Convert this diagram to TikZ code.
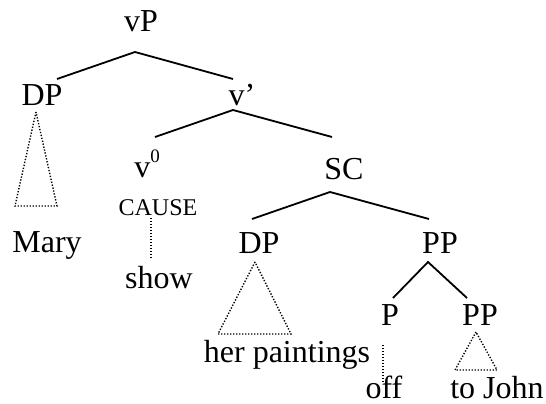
\documentclass[tikz,border=0pt]{standalone}
\usepackage{fontspec}
\setmainfont{Liberation Serif}
\usetikzlibrary{calc}
\tikzset{
  lab/.style={font=\fontsize{32}{36}\selectfont, inner sep=0pt, anchor=base},
  smalllab/.style={font=\fontsize{24}{28}\selectfont, inner sep=0pt, anchor=base},
  branch/.style={line width=1.8pt},
  dotline/.style={line width=1.4pt, dash pattern=on 1.3pt off 1.7pt},
}
\begin{document}
\begin{tikzpicture}[x=1pt,y=-1pt]
\useasboundingbox (0,0) rectangle (546,404);
% labels
\node[lab] (vP) at (141,32) {vP};
\node[lab] (DPa) at (42,105) {DP};
\node[lab] (vbar) at (242,105) {v’};
\node[lab] (v0) at (147,177) {v\raisebox{15pt}{\fontsize{19}{20}\selectfont 0}};
\node[smalllab] (cause) at (158,215) {CAUSE};
\node[lab] (show) at (159,288) {show};
\node[lab] (mary) at (47,252) {Mary};
\node[lab] (SC) at (344,179) {SC};
\node[lab] (DPb) at (259,253) {DP};
\node[lab] (PPa) at (440,253) {PP};
\node[lab] (P) at (390,325) {P};
\node[lab] (PPb) at (480,325) {PP};
\node[lab] (herp) at (287,362) {her paintings};
\node[lab] (off) at (384,398) {off};
\node[lab] (john) at (497,398) {to John};
% branches
\draw[branch] ($(DPa.base)+(15,-26)$) -- ($(vP.base)+(-6,20)$) -- ($(vbar.base)+(-9,-26)$);
\draw[branch] ($(v0.base)+(8,-40)$) -- ($(vbar.base)+(-9,5)$) -- ($(SC.base)+(-12,-42)$);
\draw[branch] ($(DPb.base)+(-7,-34)$) -- ($(SC.base)+(-14,13)$) -- ($(PPa.base)+(-11,-34)$);
\draw[branch] ($(P.base)+(3,-27)$) -- ($(PPa.base)+(-12,9)$) -- ($(PPb.base)+(-13,-27)$);
% triangles
\draw[dotline] ($(DPa.base)+(-6,7)$) -- ($(DPa.base)+(-27,101)$) -- ($(DPa.base)+(15,101)$) -- cycle;
\draw[dotline] ($(DPb.base)+(-4,9)$) -- ($(DPb.base)+(-41,81)$) -- ($(DPb.base)+(32,81)$) -- cycle;
\draw[dotline] ($(PPb.base)+(-4,7)$) -- ($(PPb.base)+(-25,45)$) -- ($(PPb.base)+(17,45)$) -- cycle;
% dotted vertical lines
\draw[dotline] ($(cause.base)+(-7,3)$) -- ($(show.base)+(-8,-30)$);
\draw[dotline] ($(P.base)+(-7,20)$) -- ($(off.base)+(-1,-15)$);
\end{tikzpicture}
\end{document}
